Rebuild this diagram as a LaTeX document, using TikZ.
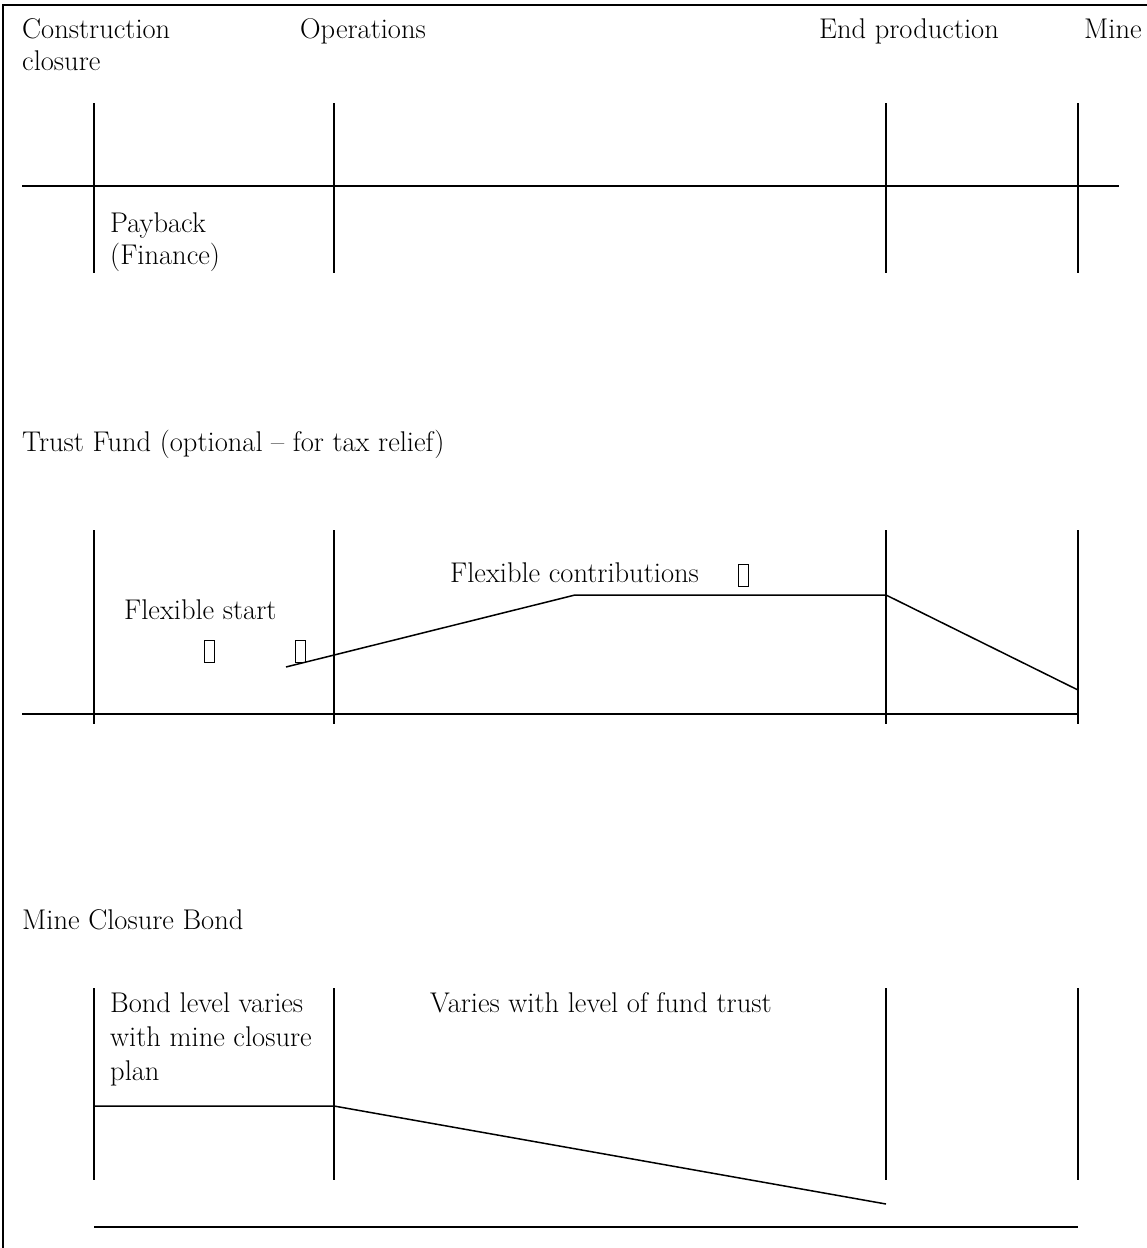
\documentclass[tikz,border=0pt]{standalone}
\usepackage{fontspec}
\begin{document}
\begin{tikzpicture}[x=1pt,y=-1pt,
  ln/.style={line width=1.5pt},
  frame/.style={line width=2.4pt},
  lbl/.style={anchor=base west,inner sep=0pt,font=\fontsize{28.5}{33}\selectfont},
  tofu/.style={draw,line width=1pt,minimum width=10pt,minimum height=22pt,inner sep=0pt}]
\useasboundingbox (0,0) rectangle (1147,1248);
% frame
\coordinate (ftl) at (3,5);
\coordinate (ftr) at (1147,5);
\coordinate (fbl) at (3,1248);
\draw[frame] (fbl) -- (ftl) -- (ftr);

% header labels
\node[lbl] (hc) at (22,38) {Construction};
\node[lbl] (hcl) at (22,70) {closure};
\node[lbl] (ho) at (300,38) {Operations};
\node[lbl] (he) at (819,38) {End production};
\node[lbl] (hm) at (1084,38) {Mine};

% section 1
\foreach \n/\x in {a/94,b/334,c/886,d/1078}{
  \coordinate (s1\n t) at (\x,103);
  \coordinate (s1\n b) at (\x,273);
  \draw[ln] (s1\n t) -- (s1\n b);
}
\coordinate (s1l) at (22,186);
\coordinate (s1r) at (1119,186);
\draw[ln] (s1l) -- (s1r);
\node[lbl] (pb1) at (110,232) {Payback};
\node[lbl] (pb2) at (110,264) {(Finance)};

% section 2
\node[lbl] (tf) at (22,451) {Trust Fund (optional -- for tax relief)};
\foreach \n/\x in {a/94,b/334,c/886,d/1078}{
  \coordinate (s2\n t) at (\x,530);
  \coordinate (s2\n b) at (\x,724);
  \draw[ln] (s2\n t) -- (s2\n b);
}
\coordinate (s2l) at (22,714);
\coordinate (s2r) at (1078,714);
\draw[ln] (s2l) -- (s2r);
\coordinate (p1) at (286,667);
\coordinate (p2) at (575,595);
\coordinate (p3) at (886,595);
\coordinate (p4) at (1078,690);
\draw[ln] (p1) -- (p2) -- (p3) -- (p4);
\node[lbl] (fc) at (450,582) {Flexible contributions};
\node[lbl] (fs) at (124,619) {Flexible start};
\node[tofu] (t1) at (743,575) {};
\node[tofu] (t2) at (209,651) {};
\node[tofu] (t3) at (300,651) {};

% section 3
\node[lbl] (mcb) at (22,929) {Mine Closure Bond};
\foreach \n/\x in {a/94,b/334,c/886,d/1078}{
  \coordinate (s3\n t) at (\x,988);
  \coordinate (s3\n b) at (\x,1180);
  \draw[ln] (s3\n t) -- (s3\n b);
}
\node[lbl] (bl1) at (110,1012) {Bond level varies};
\node[lbl] (bl2) at (110,1046) {with mine closure};
\node[lbl] (bl3) at (110,1080) {plan};
\node[lbl] (vw) at (430,1012) {Varies with level of fund trust};
\coordinate (q1) at (94,1106);
\coordinate (q2) at (334,1106);
\coordinate (q3) at (886,1204);
\draw[ln] (q1) -- (q2) -- (q3);
\coordinate (s3l) at (94,1227);
\coordinate (s3r) at (1078,1227);
\draw[line width=1.9pt] (s3l) -- (s3r);
\end{tikzpicture}
\end{document}
